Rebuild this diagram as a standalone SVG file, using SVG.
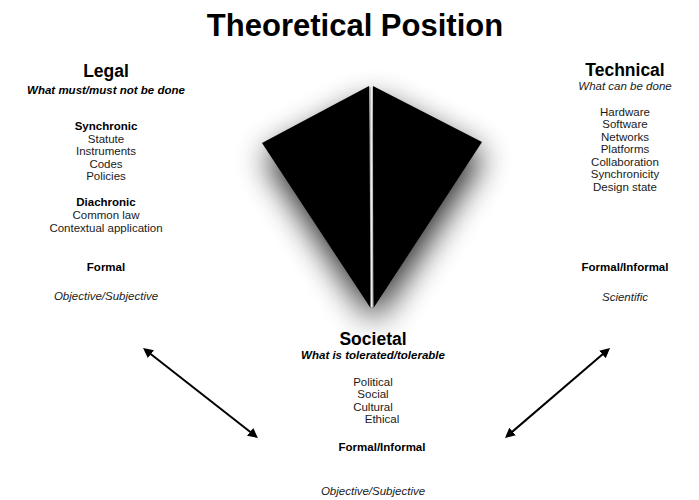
<svg xmlns="http://www.w3.org/2000/svg" width="699" height="500" viewBox="0 0 699 500">
<defs>
<style>
text{font-family:"Liberation Sans",Arial,Helvetica,sans-serif;fill:#1a1a1a;text-anchor:middle;font-size:11.5px}
.title{font-size:31px;font-weight:bold;fill:#000}
.head{font-size:17.5px;font-weight:bold;fill:#000}
.bi{font-weight:bold;font-style:italic;fill:#000}
.it{font-style:italic}
.b{font-weight:bold;fill:#000}
.conn{stroke:#000;stroke-width:2;fill:none;marker-start:url(#ah);marker-end:url(#ah)}
</style>
<marker id="ah" markerUnits="userSpaceOnUse" markerWidth="14" markerHeight="12" refX="6" refY="5" orient="auto-start-reverse">
<path d="M0,0 L10,5 L0,10 z" fill="#000"/>
</marker>
<filter id="shadow" x="-50%" y="-40%" width="200%" height="190%">
<feGaussianBlur in="SourceAlpha" stdDeviation="16"/>
<feOffset dx="2" dy="14" result="b"/>
<feComponentTransfer><feFuncA type="linear" slope="0.85"/></feComponentTransfer>
<feMerge><feMergeNode/><feMergeNode in="SourceGraphic"/></feMerge>
</filter>
<linearGradient id="gap" gradientUnits="userSpaceOnUse" x1="369" y1="0" x2="374" y2="0">
<stop offset="0" stop-color="#777"/>
<stop offset="0.5" stop-color="#eee"/>
<stop offset="1" stop-color="#777"/>
</linearGradient>
</defs>
<rect width="699" height="500" fill="#fff"/>
<text class="title" x="355" y="36">Theoretical Position</text>

<g id="kite">
<g filter="url(#shadow)">
<polygon points="369,86 262,143 370.5,308" fill="#000"/>
<polygon points="373,86 482,142 373.5,308" fill="#000"/>
</g>
<polygon points="369.3,87 372.7,87 373.3,307 370.7,307" fill="url(#gap)"/>
</g>

<g id="legal">
<text class="head" x="106" y="77">Legal</text>
<text class="bi" x="106" y="94">What must/must not be done</text>
<text class="b" x="106" y="130">Synchronic</text>
<text x="106" y="142.5">Statute</text>
<text x="106" y="155">Instruments</text>
<text x="106" y="167.5">Codes</text>
<text x="106" y="180">Policies</text>
<text class="b" x="106" y="206">Diachronic</text>
<text x="106" y="218.5">Common law</text>
<text x="106" y="231.5">Contextual application</text>
<text class="b" x="106" y="270.5">Formal</text>
<text class="it" x="106" y="300">Objective/Subjective</text>
</g>

<g id="technical">
<text class="head" x="625" y="76">Technical</text>
<text class="it" x="625" y="90">What can be done</text>
<text x="625" y="115.5">Hardware</text>
<text x="625" y="128">Software</text>
<text x="625" y="140.5">Networks</text>
<text x="625" y="153">Platforms</text>
<text x="625" y="165.5">Collaboration</text>
<text x="625" y="178">Synchronicity</text>
<text x="625" y="190.5">Design state</text>
<text class="b" x="625" y="271">Formal/Informal</text>
<text class="it" x="625" y="300.5">Scientific</text>
</g>

<g id="societal">
<text class="head" x="373" y="345">Societal</text>
<text class="bi" x="373" y="359">What is tolerated/tolerable</text>
<text x="373" y="385.5">Political</text>
<text x="373" y="398">Social</text>
<text x="373" y="410.5">Cultural</text>
<text x="382" y="423">Ethical</text>
<text class="b" x="382" y="451">Formal/Informal</text>
<text class="it" x="373" y="495">Objective/Subjective</text>
</g>

<g id="connectors">
<path class="conn" d="M146.2,350.5 L254.8,435.5"/>
<path class="conn" d="M607,350.6 L508,435.4"/>
</g>
</svg>
